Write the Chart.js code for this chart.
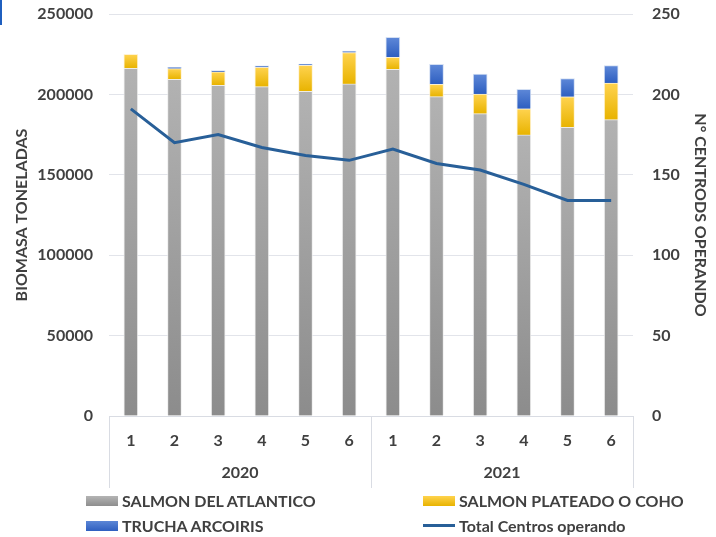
<!DOCTYPE html>
<html lang="es">
<head>
<meta charset="UTF-8">
<title>Biomasa y centros operando</title>
<script src="https://cdn.jsdelivr.net/npm/chart.js"></script>
<style>
  body { margin: 0; background: #fff; }
  .wrap { position: relative; width: 716px; height: 537px; font-family: Lato, sans-serif; }
  .marca { position: absolute; left: 0; top: 0; width: 2px; height: 25px; background: #1f5fbf; }
  .leyenda { position: absolute; left: 0; top: 491px; width: 716px; font-weight: bold; font-size: 16px; color: #404040; }
  .item { position: absolute; display: flex; align-items: center; white-space: nowrap; }
  .item span.caja { display: inline-block; width: 32px; height: 10px; margin-right: 4px; }
  .item span.linea { display: inline-block; width: 32px; height: 3px; margin-right: 4px; background: #285f98; }
</style>
</head>
<body>
<div class="wrap">
  <canvas id="grafico" width="716" height="537"></canvas>
  <div class="marca"></div>
  <div class="leyenda">
    <div class="item" style="left:86px;top:0"><span class="caja" style="background:linear-gradient(#b4b4b4,#8e8e8e)"></span>SALMON DEL ATLANTICO</div>
    <div class="item" style="left:423px;top:0"><span class="caja" style="background:linear-gradient(#ffd34d,#e8b300)"></span>SALMON PLATEADO O COHO</div>
    <div class="item" style="left:86px;top:25px"><span class="caja" style="background:linear-gradient(#5b86d6,#2e5fc0)"></span>TRUCHA ARCOIRIS</div>
    <div class="item" style="left:423px;top:25px"><span class="linea"></span>Total Centros operando</div>
  </div>
</div>

<script>
// datos
const meses = ['1', '2', '3', '4', '5', '6', '1', '2', '3', '4', '5', '6'];
const anios = ['2020', '2021'];
const salmonAtlantico = [216200, 209400, 205700, 204800, 201900, 206500, 215600, 198600, 188000, 174800, 179500, 184300];
const salmonCoho = [8700, 6600, 8300, 12000, 16200, 19500, 7500, 7700, 12200, 16200, 19000, 22800];
const truchaArcoiris = [0, 900, 800, 1000, 800, 1000, 12400, 12400, 12400, 12200, 11400, 10800];
const centrosOperando = [191, 170, 175, 167, 162, 159, 166, 157, 153, 144, 134, 134];

const series = [salmonAtlantico, salmonCoho, truchaArcoiris];
const colorTexto = '#404040';
const fuente = { family: 'Lato', weight: 'bold', size: 16 };

// degradado por segmento de barra
function degradado(idx, arriba, abajo) {
    return function (context) {
        const chart = context.chart;
        const y = chart.scales && chart.scales.y;
        if (!chart.chartArea || !y || context.dataIndex === undefined) return abajo;
        let base = 0;
        for (let k = 0; k < idx; k++) base += series[k][context.dataIndex];
        const tope = base + series[idx][context.dataIndex];
        const y0 = y.getPixelForValue(base);
        const y1 = y.getPixelForValue(tope);
        if (!isFinite(y0) || !isFinite(y1) || y0 === y1) return abajo;
        const g = chart.ctx.createLinearGradient(0, y1, 0, y0);
        g.addColorStop(0, arriba);
        g.addColorStop(1, abajo);
        return g;
    };
}

// etiquetas de año bajo el eje x
const gruposAnio = {
    id: 'gruposAnio',
    afterDraw(chart) {
        const ctx = chart.ctx;
        const x = chart.scales.x;
        const area = chart.chartArea;
        const yFin = x.bottom - 2;
        const bordes = [area.left];
        for (let a = 1; a < anios.length; a++) {
            const i = a * 6;
            bordes.push((x.getPixelForValue(i - 1) + x.getPixelForValue(i)) / 2);
        }
        bordes.push(area.right);
        ctx.save();
        ctx.strokeStyle = '#d9dce3';
        ctx.lineWidth = 1;
        bordes.forEach(b => {
            ctx.beginPath();
            ctx.moveTo(Math.round(b) + 0.5, area.bottom);
            ctx.lineTo(Math.round(b) + 0.5, yFin);
            ctx.stroke();
        });
        ctx.fillStyle = colorTexto;
        ctx.font = 'bold 16px Lato';
        ctx.textAlign = 'center';
        ctx.textBaseline = 'middle';
        anios.forEach((t, a) => {
            ctx.fillText(t, (bordes[a] + bordes[a + 1]) / 2, 473);
        });
        ctx.restore();
    }
};

new Chart(document.getElementById('grafico'), {
    type: 'bar',
    data: {
        labels: meses,
        datasets: [
            {
                label: 'SALMON DEL ATLANTICO',
                data: salmonAtlantico,
                backgroundColor: degradado(0, '#b2b2b2', '#8c8c8c'),
                borderColor: 'rgba(235,235,235,0.8)',
                borderWidth: 1,
                barThickness: 14,
                yAxisID: 'y',
                order: 1
            },
            {
                label: 'SALMON PLATEADO O COHO',
                data: salmonCoho,
                backgroundColor: degradado(1, '#ffd34f', '#e8b300'),
                borderColor: 'rgba(255,240,200,0.8)',
                borderWidth: 1,
                barThickness: 14,
                yAxisID: 'y',
                order: 1
            },
            {
                label: 'TRUCHA ARCOIRIS',
                data: truchaArcoiris,
                backgroundColor: degradado(2, '#5e88d8', '#2d5ec0'),
                borderColor: 'rgba(200,215,240,0.8)',
                borderWidth: 1,
                barThickness: 14,
                yAxisID: 'y',
                order: 1
            },
            {
                type: 'line',
                label: 'Total Centros operando',
                data: centrosOperando,
                borderColor: '#285f98',
                borderWidth: 3,
                pointRadius: 0,
                tension: 0,
                fill: false,
                yAxisID: 'y1',
                order: 0
            }
        ]
    },
    options: {
        responsive: false,
        animation: false,
        layout: { padding: { top: 14, bottom: 47, left: 0, right: 0 } },
        plugins: {
            legend: { display: false },
            tooltip: { enabled: false }
        },
        scales: {
            x: {
                stacked: true,
                grid: { display: false },
                border: { display: true, color: '#d9dce3' },
                ticks: { color: colorTexto, font: fuente, padding: 7, maxRotation: 0, autoSkip: false },
                afterFit(scale) { scale.height = 74; scale.paddingLeft = 0; scale.paddingRight = 0; }
            },
            y: {
                stacked: true,
                position: 'left',
                min: 0,
                max: 250000,
                ticks: { stepSize: 50000, color: colorTexto, font: fuente, padding: 16, callback: v => String(v) },
                grid: { color: '#e2e4ea', drawTicks: false },
                border: { display: false },
                title: { display: true, text: 'BIOMASA TONELADAS', color: colorTexto, font: fuente, padding: { top: 12, bottom: 0 } },
                afterFit(scale) { scale.width = 109; scale.paddingTop = 0; scale.paddingBottom = 0; }
            },
            y1: {
                position: 'right',
                min: 0,
                max: 250,
                ticks: { stepSize: 50, color: colorTexto, font: fuente, padding: 19 },
                grid: { display: false, drawTicks: false },
                border: { display: false },
                title: { display: true, text: 'N° CENTRODS OPERANDO', color: colorTexto, font: fuente, padding: { top: 6, bottom: 0 } },
                afterFit(scale) { scale.width = 83; scale.paddingTop = 0; scale.paddingBottom = 0; }
            }
        }
    },
    plugins: [gruposAnio]
});
</script>
</body>
</html>
